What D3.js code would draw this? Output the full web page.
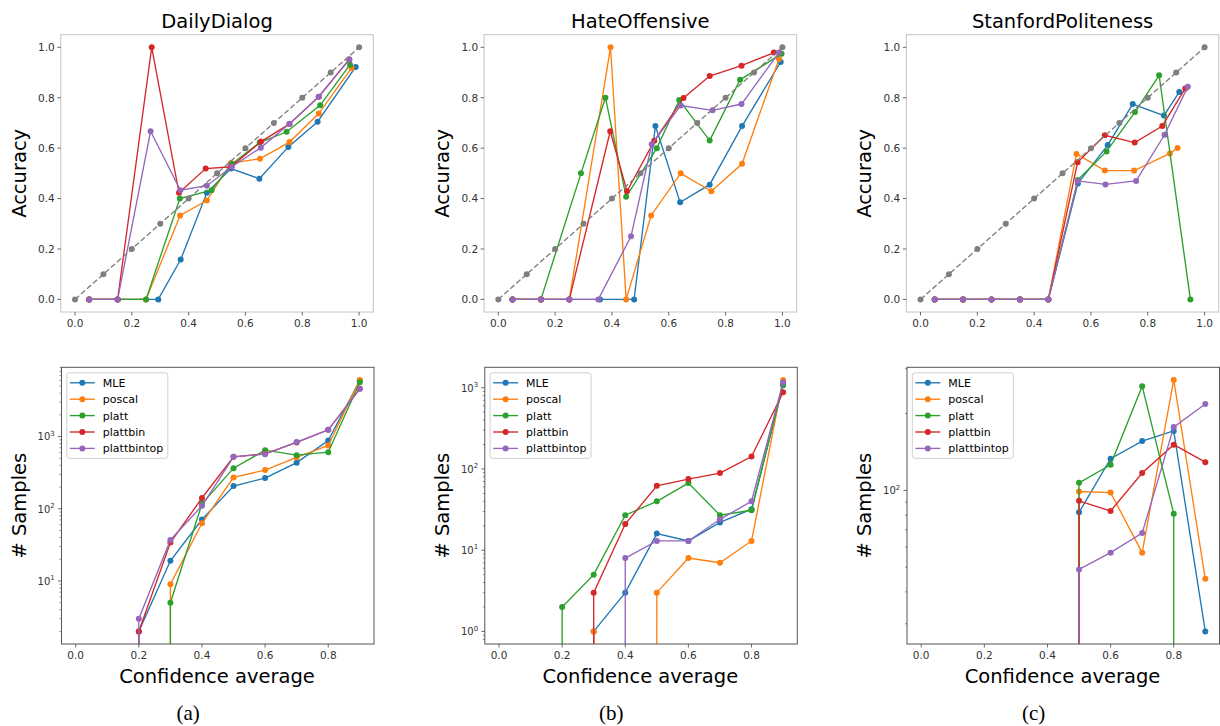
<!DOCTYPE html>
<html><head><meta charset="utf-8">
<script src="https://cdn.jsdelivr.net/npm/d3@7"></script>
<style>
html,body{margin:0;padding:0;background:#fff;}
svg{display:block;}
text{font-family:"DejaVu Sans",sans-serif;}
text.caption{font-family:"Liberation Serif","Times New Roman",serif;}
</style></head>
<body>
<svg id="chart" width="1220" height="726"></svg>
<script>
// ---------------- DATA ----------------
const datasets = ["DailyDialog", "HateOffensive", "StanfordPoliteness"];
const captions = ["(a)", "(b)", "(c)"];
const seriesNames = ["MLE", "poscal", "platt", "plattbin", "plattbintop"];
const seriesColors = ["#1f77b4", "#ff7f0e", "#2ca02c", "#d62728", "#9467bd"];
const diagX = [0, 0.1, 0.2, 0.3, 0.4, 0.5, 0.6, 0.7, 0.8, 0.9, 1.0];
const binStarts = [0.0, 0.1, 0.2, 0.3, 0.4, 0.5, 0.6, 0.7, 0.8, 0.9];
const accTicks = [0.0, 0.2, 0.4, 0.6, 0.8, 1.0];
const confTicksTop = [0.0, 0.2, 0.4, 0.6, 0.8, 1.0];
const confTicksBottom = [0.0, 0.2, 0.4, 0.6, 0.8];

// DailyDialog
const ddConf = [
  [0.05, 0.15, 0.293, 0.372, 0.464, 0.549, 0.649, 0.751, 0.854, 0.988],
  [0.05, 0.15, 0.25, 0.370, 0.464, 0.549, 0.651, 0.755, 0.858, 0.974],
  [0.05, 0.15, 0.25, 0.369, 0.481, 0.552, 0.650, 0.745, 0.863, 0.968],
  [0.05, 0.15, 0.270, 0.366, 0.460, 0.549, 0.655, 0.755, 0.858, 0.965],
  [0.05, 0.15, 0.266, 0.371, 0.464, 0.552, 0.654, 0.755, 0.858, 0.966]
];
const ddAcc = [
  [0, 0, 0, 0.158, 0.423, 0.519, 0.479, 0.605, 0.705, 0.922],
  [0, 0, 0, 0.333, 0.392, 0.541, 0.558, 0.624, 0.737, 0.918],
  [0, 0, 0, 0.400, 0.433, 0.537, 0.622, 0.665, 0.770, 0.931],
  [0, 0, 1.0, 0.423, 0.519, 0.526, 0.626, 0.696, 0.804, 0.952],
  [0, 0, 0.667, 0.433, 0.451, 0.526, 0.602, 0.697, 0.804, 0.952]
];
const ddCount = [
  [0, 0, 2, 19, 71, 206, 266, 435, 883, 5970],
  [0, 0, 0, 9, 63, 272, 343, 514, 753, 6100],
  [0, 0, 0, 5, 117, 365, 648, 553, 608, 5650],
  [0, 0, 2, 34, 141, 525, 578, 828, 1241, 4580],
  [0, 0, 3, 37, 110, 525, 570, 840, 1240, 4580]
];

// HateOffensive
const hoConf = [
  [0.05, 0.15, 0.25, 0.358, 0.478, 0.553, 0.640, 0.744, 0.858, 0.994],
  [0.05, 0.15, 0.25, 0.395, 0.45, 0.538, 0.642, 0.750, 0.858, 0.988],
  [0.05, 0.15, 0.291, 0.377, 0.450, 0.558, 0.637, 0.744, 0.851, 0.997],
  [0.05, 0.15, 0.25, 0.394, 0.453, 0.549, 0.652, 0.744, 0.856, 0.970],
  [0.05, 0.15, 0.25, 0.352, 0.467, 0.540, 0.642, 0.754, 0.856, 0.988]
];
const hoAcc = [
  [0, 0, 0, 0, 0, 0.6875, 0.385, 0.455, 0.6875, 0.942],
  [0, 0, 0, 1.0, 0, 0.333, 0.5, 0.429, 0.538, 0.954],
  [0, 0, 0.5, 0.8, 0.407, 0.6, 0.791, 0.630, 0.871, 0.974],
  [0, 0, 0, 0.667, 0.429, 0.629, 0.799, 0.886, 0.927, 0.979],
  [0, 0, 0, 0, 0.25, 0.615, 0.769, 0.75, 0.775, 0.979]
];
const hoCount = [
  [0, 0, 0, 1, 3, 16, 13, 22, 32, 1070],
  [0, 0, 0, 1, 0, 3, 8, 7, 13, 1250],
  [0, 0, 2, 5, 27, 40, 67, 27, 31, 1090],
  [0, 0, 0, 3, 21, 62, 75, 89, 142, 880],
  [0, 0, 0, 0, 8, 13, 13, 24, 40, 1170]
];

// StanfordPoliteness
const spConf = [
  [0.05, 0.15, 0.25, 0.35, 0.45, 0.554, 0.659, 0.747, 0.857, 0.911],
  [0.05, 0.15, 0.25, 0.35, 0.45, 0.549, 0.649, 0.752, 0.878, 0.905],
  [0.05, 0.15, 0.25, 0.35, 0.45, 0.554, 0.655, 0.755, 0.840, 0.95],
  [0.05, 0.15, 0.25, 0.35, 0.45, 0.553, 0.649, 0.754, 0.851, 0.932],
  [0.05, 0.15, 0.25, 0.35, 0.45, 0.554, 0.651, 0.759, 0.859, 0.941]
];
const spAcc = [
  [0, 0, 0, 0, 0, 0.460, 0.612, 0.775, 0.729, 0.823],
  [0, 0, 0, 0, 0, 0.577, 0.511, 0.511, 0.579, 0.601],
  [0, 0, 0, 0, 0, 0.474, 0.587, 0.743, 0.889, 0],
  [0, 0, 0, 0, 0, 0.544, 0.651, 0.622, 0.688, 0.837],
  [0, 0, 0, 0, 0, 0.470, 0.456, 0.470, 0.653, 0.844]
];
const spCount = [
  [0, 0, 0, 0, 0, 82, 133, 156, 171, 28],
  [0, 0, 0, 0, 0, 99, 98, 57, 271, 45],
  [0, 0, 0, 0, 0, 107, 126, 256, 81, 0],
  [0, 0, 0, 0, 0, 91, 83, 117, 151, 129],
  [0, 0, 0, 0, 0, 49, 57, 68, 177, 218]
];

const allConf = [ddConf, hoConf, spConf];
const allAcc = [ddAcc, hoAcc, spAcc];
const allCount = [ddCount, hoCount, spCount];

// ---------------- LAYOUT ----------------
const svg = d3.select("#chart");
const panelLefts = [60.8, 484.1, 906.3];
const panelW = 312.5;
const topY = [34.7, 312];
const botY = [367.3, 644];
const lineW = 1.35, markR = 3.0;
const tickColor = "#444", labelColor = "#333";

function drawFrame(g, L, T, B, stroke) {
  g.append("rect").attr("x", L).attr("y", T).attr("width", panelW).attr("height", B - T)
    .attr("fill", "none").attr("stroke", stroke).attr("stroke-width", 1);
}

datasets.forEach((name, p) => {
  const L = panelLefts[p];
  const g = svg.append("g");

  // ---------- TOP: reliability ----------
  const xT = d3.scaleLinear().domain([-0.05, 1.05]).range([L, L + panelW]);
  const yT = d3.scaleLinear().domain([-0.05, 1.05]).range([topY[1], topY[0]]);

  const clipT = "clipT" + p;
  svg.append("clipPath").attr("id", clipT).append("rect")
    .attr("x", L).attr("y", topY[0]).attr("width", panelW).attr("height", topY[1] - topY[0]);

  const gt = g.append("g").attr("clip-path", `url(#${clipT})`);
  seriesNames.forEach((s, i) => {
    const pts = allConf[p][i].map((c, k) => ({x: c, y: allAcc[p][i][k]}));
    gt.append("path").datum(pts)
      .attr("d", d3.line().x(d => xT(d.x)).y(d => yT(d.y)))
      .attr("fill", "none").attr("stroke", seriesColors[i]).attr("stroke-width", lineW);
    gt.selectAll(null).data(pts).enter().append("circle")
      .attr("cx", d => xT(d.x)).attr("cy", d => yT(d.y)).attr("r", markR)
      .attr("fill", seriesColors[i]);
  });
  // diagonal reference
  gt.append("path").datum(diagX)
    .attr("d", d3.line().x(d => xT(d)).y(d => yT(d)))
    .attr("fill", "none").attr("stroke", "#7f7f7f").attr("stroke-width", lineW)
    .attr("stroke-dasharray", "5.5,2.5");
  gt.selectAll(null).data(diagX).enter().append("circle")
    .attr("cx", d => xT(d)).attr("cy", d => yT(d)).attr("r", markR).attr("fill", "#7f7f7f");

  drawFrame(g, L, topY[0], topY[1], "#c4c4c4");

  // top axes ticks
  accTicks.forEach(t => {
    g.append("line").attr("x1", L - 3.5).attr("x2", L).attr("y1", yT(t)).attr("y2", yT(t))
      .attr("stroke", tickColor).attr("stroke-width", 0.8);
    g.append("text").attr("x", L - 6).attr("y", yT(t) + 3.8).attr("text-anchor", "end")
      .attr("font-size", 10.5).attr("fill", labelColor).text(t.toFixed(1));
  });
  confTicksTop.forEach(t => {
    g.append("line").attr("x1", xT(t)).attr("x2", xT(t)).attr("y1", topY[1]).attr("y2", topY[1] + 3.5)
      .attr("stroke", tickColor).attr("stroke-width", 0.8);
    g.append("text").attr("x", xT(t)).attr("y", topY[1] + 14.7).attr("text-anchor", "middle")
      .attr("font-size", 10.5).attr("fill", labelColor).text(t.toFixed(1));
  });

  // title
  g.append("text").attr("x", L + panelW / 2).attr("y", 28).attr("text-anchor", "middle")
    .attr("font-size", 19.5).attr("fill", "#000").text(name);
  // y label
  g.append("text").attr("transform", `translate(${L - 35},${(topY[0] + topY[1]) / 2}) rotate(-90)`)
    .attr("text-anchor", "middle").attr("font-size", 19.5).attr("fill", "#000").text("Accuracy");

  // ---------- BOTTOM: counts (log) ----------
  const xB = d3.scaleLinear().domain([-0.045, 0.945]).range([L + 0.7, L + 0.7 + panelW]);
  const pos = allCount[p].flat().filter(v => v > 0);
  const lo = Math.log10(d3.min(pos)), hi = Math.log10(d3.max(pos));
  const pad = 0.05 * (hi - lo);
  const yB = d3.scaleLog().domain([Math.pow(10, lo - pad), Math.pow(10, hi + pad)]).range([botY[1], botY[0]]);

  const clipB = "clipB" + p;
  svg.append("clipPath").attr("id", clipB).append("rect")
    .attr("x", L + 0.7).attr("y", botY[0]).attr("width", panelW).attr("height", botY[1] - botY[0]);
  const gb = g.append("g").attr("clip-path", `url(#${clipB})`);

  seriesNames.forEach((s, i) => {
    const pts = binStarts.map((b, k) => ({x: b, v: allCount[p][i][k]}));
    gb.append("path").datum(pts)
      .attr("d", d3.line().x(d => xB(d.x)).y(d => d.v > 0 ? yB(d.v) : botY[1] + 1e6))
      .attr("fill", "none").attr("stroke", seriesColors[i]).attr("stroke-width", lineW);
    gb.selectAll(null).data(pts.filter(d => d.v > 0)).enter().append("circle")
      .attr("cx", d => xB(d.x)).attr("cy", d => yB(d.v)).attr("r", markR)
      .attr("fill", seriesColors[i]);
  });

  drawFrame(g, L + 0.7, botY[0], botY[1], "#555");

  const [d0, d1] = yB.domain();
  for (let e = Math.floor(Math.log10(d0)); e <= Math.ceil(Math.log10(d1)); e++) {
    for (let m = 1; m <= 9; m++) {
      const v = m * Math.pow(10, e);
      if (v < d0 || v > d1) continue;
      const yy = yB(v);
      g.append("line").attr("x1", L + 0.7 - (m === 1 ? 3.5 : 2)).attr("x2", L + 0.7)
        .attr("y1", yy).attr("y2", yy).attr("stroke", tickColor).attr("stroke-width", m === 1 ? 0.8 : 0.6);
      if (m === 1) {
        const t = g.append("text").attr("x", L - 6).attr("y", yy + 3.8).attr("text-anchor", "end")
          .attr("font-size", 10).attr("fill", labelColor);
        t.append("tspan").text("10");
        t.append("tspan").attr("dy", -4.5).attr("font-size", 7).text(String(e));
      }
    }
  }
  confTicksBottom.forEach(t => {
    g.append("line").attr("x1", xB(t)).attr("x2", xB(t)).attr("y1", botY[1]).attr("y2", botY[1] + 3.5)
      .attr("stroke", tickColor).attr("stroke-width", 0.8);
    g.append("text").attr("x", xB(t)).attr("y", botY[1] + 14.7).attr("text-anchor", "middle")
      .attr("font-size", 10.5).attr("fill", labelColor).text(t.toFixed(1));
  });

  g.append("text").attr("transform", `translate(${L - 35},${(botY[0] + botY[1]) / 2}) rotate(-90)`)
    .attr("text-anchor", "middle").attr("font-size", 19.5).attr("fill", "#000").text("# Samples");
  g.append("text").attr("x", L + panelW / 2).attr("y", 682.5).attr("text-anchor", "middle")
    .attr("font-size", 19.5).attr("fill", "#000").text("Confidence average");
  g.append("text").attr("class", "caption").attr("x", L + panelW / 2 - 29).attr("y", 720).attr("text-anchor", "middle")
    .attr("font-size", 21).attr("fill", "#000").text(captions[p]);

  // legend
  const lg = g.append("g").attr("transform", `translate(${L + 6},${botY[0] + 5.5})`);
  lg.append("rect").attr("x", 0).attr("y", 0).attr("width", 101).attr("height", 85.5)
    .attr("rx", 2.5).attr("fill", "#fff").attr("fill-opacity", 0.8).attr("stroke", "#d0d0d0");
  seriesNames.forEach((s, i) => {
    const yy = 10 + i * 16.4;
    lg.append("line").attr("x1", 3).attr("x2", 28).attr("y1", yy).attr("y2", yy)
      .attr("stroke", seriesColors[i]).attr("stroke-width", lineW);
    lg.append("circle").attr("cx", 15.5).attr("cy", yy).attr("r", markR).attr("fill", seriesColors[i]);
    lg.append("text").attr("x", 36).attr("y", yy + 4).attr("font-size", 11).attr("fill", "#000").text(s);
  });
});
</script>
</body></html>
